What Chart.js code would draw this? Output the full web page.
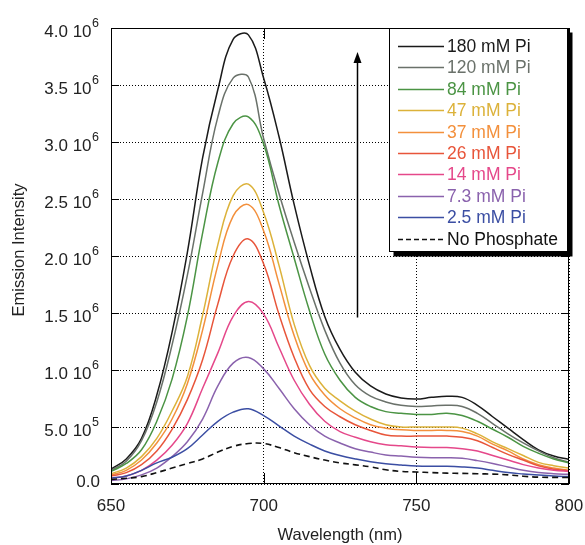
<!DOCTYPE html>
<html>
<head>
<meta charset="utf-8">
<script src="https://cdn.jsdelivr.net/npm/chart.js@4.4.0/dist/chart.umd.min.js"></script>
<style>
html, body { margin: 0; padding: 0; background: #fff; }
#wrap { width: 585px; height: 545px; }
</style>
</head>
<body>
<div id="wrap"><canvas id="chart" width="585" height="545"></canvas></div>
<script>
// wavelength grid (nm), intensities in units of 10^6
const wavelengths = [650, 655, 660, 665, 670, 675, 680, 685, 690, 695, 700, 705, 710, 715, 720, 725,
  730, 735, 740, 745, 750, 755, 760, 765, 770, 775, 780, 785, 790, 795, 800];

const pi180 = [0.13, 0.22, 0.40, 0.78, 1.33, 2.03, 2.86, 3.46, 3.90, 3.94, 3.56, 3.05, 2.45, 1.92, 1.47, 1.18,
  0.98, 0.86, 0.79, 0.755, 0.745, 0.76, 0.77, 0.76, 0.69, 0.59, 0.49, 0.39, 0.30, 0.245, 0.215];
const pi120 = [0.12, 0.20, 0.38, 0.72, 1.22, 1.83, 2.55, 3.22, 3.56, 3.57, 3.03, 2.55, 2.12, 1.72, 1.35, 1.06,
  0.87, 0.77, 0.72, 0.69, 0.68, 0.685, 0.69, 0.68, 0.62, 0.53, 0.44, 0.36, 0.29, 0.23, 0.19];
const pi84 = [0.11, 0.18, 0.30, 0.55, 0.92, 1.47, 2.20, 2.82, 3.16, 3.22, 2.98, 2.45, 1.98, 1.52, 1.14, 0.91,
  0.76, 0.68, 0.635, 0.62, 0.61, 0.61, 0.62, 0.60, 0.55, 0.48, 0.41, 0.33, 0.27, 0.22, 0.185];
const pi47 = [0.09, 0.14, 0.24, 0.40, 0.64, 0.94, 1.48, 2.10, 2.53, 2.63, 2.38, 1.92, 1.40, 1.04, 0.84, 0.73,
  0.64, 0.57, 0.52, 0.50, 0.50, 0.50, 0.50, 0.49, 0.44, 0.37, 0.31, 0.25, 0.19, 0.16, 0.14];
const pi37 = [0.08, 0.12, 0.21, 0.36, 0.57, 0.88, 1.35, 1.92, 2.35, 2.45, 2.22, 1.76, 1.30, 0.97, 0.78, 0.66,
  0.58, 0.52, 0.49, 0.475, 0.47, 0.47, 0.47, 0.46, 0.42, 0.35, 0.29, 0.22, 0.17, 0.14, 0.12];
const pi26 = [0.07, 0.10, 0.17, 0.29, 0.48, 0.74, 1.09, 1.58, 2.00, 2.15, 1.93, 1.49, 1.11, 0.83, 0.68, 0.59,
  0.52, 0.47, 0.43, 0.42, 0.42, 0.42, 0.42, 0.41, 0.38, 0.32, 0.26, 0.21, 0.16, 0.13, 0.115];
const pi14 = [0.05, 0.07, 0.12, 0.21, 0.34, 0.53, 0.84, 1.15, 1.47, 1.60, 1.49, 1.20, 0.91, 0.70, 0.55, 0.46,
  0.41, 0.37, 0.345, 0.335, 0.325, 0.32, 0.32, 0.31, 0.29, 0.25, 0.21, 0.17, 0.14, 0.12, 0.11];
const pi7_3 = [0.03, 0.045, 0.08, 0.14, 0.24, 0.37, 0.57, 0.86, 1.06, 1.11, 1.01, 0.84, 0.66, 0.52, 0.42, 0.36,
  0.31, 0.28, 0.255, 0.245, 0.235, 0.23, 0.23, 0.225, 0.205, 0.18, 0.15, 0.12, 0.10, 0.09, 0.085];
const pi2_5 = [0.05, 0.07, 0.12, 0.185, 0.235, 0.31, 0.43, 0.55, 0.63, 0.66, 0.60, 0.51, 0.42, 0.35, 0.29, 0.25,
  0.22, 0.195, 0.178, 0.167, 0.158, 0.155, 0.155, 0.15, 0.14, 0.12, 0.10, 0.088, 0.078, 0.07, 0.065];
const noPhosphate = [0.04, 0.05, 0.065, 0.10, 0.14, 0.18, 0.22, 0.28, 0.33, 0.355, 0.355, 0.32, 0.275, 0.24, 0.21, 0.185,
  0.168, 0.15, 0.125, 0.11, 0.105, 0.10, 0.095, 0.093, 0.09, 0.087, 0.08, 0.068, 0.06, 0.058, 0.057];

const seriesNames = ['180 mM Pi', '120 mM Pi', '84 mM Pi', '47 mM Pi', '37 mM Pi', '26 mM Pi',
  '14 mM Pi', '7.3 mM Pi', '2.5 mM Pi', 'No Phosphate'];
const seriesValues = [pi180, pi120, pi84, pi47, pi37, pi26, pi14, pi7_3, pi2_5, noPhosphate];
const seriesColors = ['#1a1a1a', '#6a716a', '#4b9444', '#dcb23a', '#f3903c', '#e8553a',
  '#e5488a', '#8a62ad', '#3b4ea3', '#111111'];

const yTickLabels = ['0.0', '5.0 10^5', '1.0 10^6', '1.5 10^6', '2.0 10^6', '2.5 10^6',
  '3.0 10^6', '3.5 10^6', '4.0 10^6'];
const xTitle = 'Wavelength (nm)';
const yTitle = 'Emission Intensity';

// arrow: wavelength and intensity range
const arrowX = 730.6;
const arrowFrom = 1.46;
const arrowTo = 3.79;

const FONT = "'Liberation Sans', Arial, Helvetica, sans-serif";

let datasets = seriesNames.map(function (name, i) {
  return {
    label: name,
    data: wavelengths.map(function (w, j) { return {x: w, y: seriesValues[i][j]}; }),
    borderColor: seriesColors[i],
    borderWidth: i === 9 ? 1.6 : 1.5,
    borderDash: i === 9 ? [6, 4] : [],
    pointRadius: 0,
    tension: 0.4,
    fill: false
  };
}).reverse();

const decorations = {
  id: 'decorations',
  afterDatasetsDraw(chart) {
    const {ctx, chartArea: a, scales: {x, y}} = chart;
    ctx.save();
    // frame
    ctx.strokeStyle = '#000';
    ctx.lineWidth = 1;
    ctx.setLineDash([]);
    ctx.strokeRect(a.left + 0.5, a.top + 0.5, a.right - a.left - 1, a.bottom - a.top - 1);
    // inward ticks
    ctx.beginPath();
    y.ticks.forEach(function (t) {
      const py = Math.round(y.getPixelForValue(t.value)) + 0.5;
      ctx.moveTo(a.left, py); ctx.lineTo(a.left + 8, py);
      ctx.moveTo(a.right, py); ctx.lineTo(a.right - 8, py);
    });
    x.ticks.forEach(function (t) {
      const px = Math.round(x.getPixelForValue(t.value)) + 0.5;
      ctx.moveTo(px, a.bottom); ctx.lineTo(px, a.bottom - 11);
      ctx.moveTo(px, a.top); ctx.lineTo(px, a.top + 11);
    });
    ctx.stroke();

    // arrow
    const ax = Math.round(x.getPixelForValue(arrowX)) + 0.5;
    const ay1 = y.getPixelForValue(arrowFrom);
    const ay2 = y.getPixelForValue(arrowTo);
    ctx.lineWidth = 1.5;
    ctx.beginPath();
    ctx.moveTo(ax, ay1); ctx.lineTo(ax, ay2 + 8);
    ctx.stroke();
    ctx.fillStyle = '#000';
    ctx.beginPath();
    ctx.moveTo(ax, ay2); ctx.lineTo(ax - 4, ay2 + 11); ctx.lineTo(ax + 4, ay2 + 11);
    ctx.closePath();
    ctx.fill();

    // tick labels
    ctx.fillStyle = '#222';
    ctx.textAlign = 'center';
    ctx.textBaseline = 'middle';
    ctx.font = '17px ' + FONT;
    x.ticks.forEach(function (t) {
      ctx.fillText(String(t.value), x.getPixelForValue(t.value), a.bottom + 22);
    });
    y.ticks.forEach(function (t, i) {
      const py = y.getPixelForValue(t.value);
      const parts = yTickLabels[i].split('^');
      const right = a.left - 12;
      ctx.textAlign = 'right';
      if (parts.length === 2) {
        ctx.font = '12.5px ' + FONT;
        const ew = ctx.measureText(parts[1]).width;
        ctx.fillText(parts[1], right, py - 4);
        ctx.font = '17px ' + FONT;
        ctx.fillText(parts[0], right - ew - 0.5, py + 4);
      } else {
        ctx.font = '17px ' + FONT;
        ctx.fillText(parts[0], right + 1, py - 2);
      }
    });

    // axis titles
    ctx.font = '16.5px ' + FONT;
    ctx.textAlign = 'center';
    ctx.fillText(xTitle, (a.left + a.right) / 2, a.bottom + 51);
    ctx.save();
    ctx.translate(19, 250);
    ctx.rotate(-Math.PI / 2);
    ctx.fillText(yTitle, 0, 0);
    ctx.restore();

    // legend box with drop shadow
    const lx = 389.5, ly = 28.5, lw = 178, lh = 223;
    ctx.fillStyle = '#000';
    ctx.fillRect(lx + 4, ly + 4, lw + 1, lh + 1);
    ctx.fillStyle = '#fff';
    ctx.fillRect(lx, ly, lw, lh);
    ctx.lineWidth = 1;
    ctx.strokeStyle = '#000';
    ctx.strokeRect(lx, ly, lw, lh);
    ctx.font = '17.5px ' + FONT;
    ctx.textAlign = 'left';
    seriesNames.forEach(function (name, i) {
      const ry = Math.round(46 + i * 21.4) + 0.5;
      ctx.strokeStyle = seriesColors[i];
      ctx.lineWidth = 1.5;
      ctx.setLineDash(i === 9 ? [5, 3] : []);
      ctx.beginPath();
      ctx.moveTo(398, ry); ctx.lineTo(444, ry);
      ctx.stroke();
      ctx.fillStyle = seriesColors[i];
      ctx.fillText(name, 447, ry + 1);
    });
    ctx.restore();
  }
};

let ctx = document.getElementById('chart');
let emissionChart = new Chart(ctx, {
  type: 'line',
  data: { datasets: datasets },
  options: {
    responsive: false,
    animation: false,
    layout: { padding: { left: 111, right: 16, top: 28, bottom: 61 } },
    plugins: { legend: { display: false }, tooltip: { enabled: false } },
    scales: {
      x: {
        type: 'linear', min: 650, max: 800,
        ticks: { stepSize: 50, display: false },
        grid: { color: '#000', lineWidth: 1, drawTicks: false },
        border: { display: false, dash: [1, 2] }
      },
      y: {
        min: 0, max: 4,
        ticks: { stepSize: 0.5, display: false },
        grid: { color: '#000', lineWidth: 1, drawTicks: false },
        border: { display: false, dash: [1, 2] }
      }
    }
  },
  plugins: [decorations]
});
</script>
</body>
</html>
